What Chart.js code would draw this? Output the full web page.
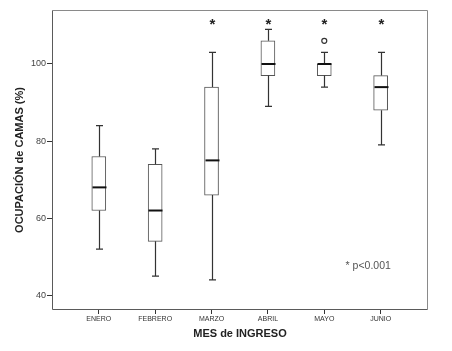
<!DOCTYPE html>
<html>
<head>
<meta charset="utf-8">
<script src="https://cdn.jsdelivr.net/npm/chart.js@4/dist/chart.umd.min.js"></script>
<style>
  body { margin: 0; background: #fff; }
  #wrap { width: 452px; height: 351px; position: relative; }
</style>
</head>
<body>
<div id="wrap"><canvas id="myChart"></canvas></div>
<script>
// data
const months = ["ENERO", "FEBRERO", "MARZO", "ABRIL", "MAYO", "JUNIO"];
const whiskerLow = [52, 45, 44, 89, 94, 79];
const q1 = [62, 54, 66, 97, 97, 88];
const median = [68, 62, 75, 100, 100, 94];
const q3 = [76, 74, 94, 106, 100, 97];
const whiskerHigh = [84, 78, 103, 109, 103, 103];
const outliers = [{ x: 4, y: 106 }];
const signif = ["", "", "*", "*", "*", "*"];
const signifLevel = 111;
const yTicks = [40, 60, 80, 100];
const note = "* p<0.001";

const FONT = "'Liberation Sans', Arial, sans-serif";

// whiskers, medians, asterisks, frame
const boxPlugin = {
    id: "boxPlugin",
    beforeDatasetsDraw(chart) {
        const { ctx, chartArea } = chart;
        const l = chartArea.left + 0.5, r = chartArea.right - 0.5;
        const t = chartArea.top + 0.5, b = chartArea.bottom - 0.5;
        ctx.save();
        ctx.lineWidth = 1;
        ctx.strokeStyle = "#8a8a8a";
        ctx.beginPath();
        ctx.moveTo(l, t);
        ctx.lineTo(r, t);
        ctx.lineTo(r, b);
        ctx.stroke();
        ctx.strokeStyle = "#5a5a5a";
        ctx.beginPath();
        ctx.moveTo(l, t);
        ctx.lineTo(l, b);
        ctx.lineTo(r, b);
        ctx.stroke();
        ctx.restore();
    },
    afterDatasetsDraw(chart) {
        const { ctx } = chart;
        const xs = chart.scales.x;
        const ys = chart.scales.y;
        const bars = chart.getDatasetMeta(0).data;
        ctx.save();
        months.forEach((m, i) => {
            const x = Math.round(xs.getPixelForValue(i)) + 0.5;
            const half = bars[i].width / 2;
            const cap = 3.5;
            ctx.strokeStyle = "#333";
            ctx.lineWidth = 1.2;
            ctx.beginPath();
            ctx.moveTo(x, ys.getPixelForValue(q3[i]));
            ctx.lineTo(x, ys.getPixelForValue(whiskerHigh[i]));
            ctx.moveTo(x - cap, ys.getPixelForValue(whiskerHigh[i]));
            ctx.lineTo(x + cap, ys.getPixelForValue(whiskerHigh[i]));
            ctx.moveTo(x, ys.getPixelForValue(q1[i]));
            ctx.lineTo(x, ys.getPixelForValue(whiskerLow[i]));
            ctx.moveTo(x - cap, ys.getPixelForValue(whiskerLow[i]));
            ctx.lineTo(x + cap, ys.getPixelForValue(whiskerLow[i]));
            ctx.stroke();

            ctx.strokeStyle = "#111";
            ctx.lineWidth = 2;
            ctx.beginPath();
            ctx.moveTo(x - half, ys.getPixelForValue(median[i]));
            ctx.lineTo(x + half, ys.getPixelForValue(median[i]));
            ctx.stroke();

            if (signif[i]) {
                ctx.fillStyle = "#222";
                ctx.font = "bold 15px " + FONT;
                ctx.textAlign = "center";
                ctx.textBaseline = "alphabetic";
                ctx.fillText(signif[i], x, ys.getPixelForValue(signifLevel) + 7);
            }
        });
        ctx.fillStyle = "#555";
        ctx.font = "10.5px " + FONT;
        ctx.textAlign = "center";
        ctx.textBaseline = "middle";
        ctx.fillText(note, xs.getPixelForValue(4.78), ys.getPixelForValue(47.5));
        ctx.restore();
    }
};

const ctx = document.getElementById("myChart").getContext("2d");
const myChart = new Chart(ctx, {
    data: {
        datasets: [{
            type: "bar",
            data: months.map((m, i) => ({ x: i, y: [q1[i], q3[i]] })),
            backgroundColor: "#ffffff",
            borderColor: "#555",
            borderWidth: 1,
            borderSkipped: false,
            barThickness: 14
        }, {
            type: "scatter",
            data: outliers,
            pointStyle: "circle",
            radius: 2.5,
            backgroundColor: "#ffffff",
            borderColor: "#333",
            borderWidth: 1.2
        }]
    },
    options: {
        responsive: true,
        maintainAspectRatio: false,
        animation: false,
        layout: { padding: { top: 10, right: 24, bottom: 0, left: 0 } },
        plugins: {
            legend: { display: false },
            tooltip: { enabled: false }
        },
        scales: {
            x: {
                type: "linear",
                offset: false,
                min: -0.83,
                max: 5.84,
                afterBuildTicks: scale => { scale.ticks = months.map((m, i) => ({ value: i })); },
                afterFit: scale => { scale.height = 41; },
                border: { display: false },
                grid: { offset: false, drawOnChartArea: false, drawTicks: true, tickLength: 4, color: "#333" },
                ticks: {
                    autoSkip: false,
                    maxRotation: 0,
                    padding: 1,
                    color: "#333",
                    font: { family: FONT, size: 7 },
                    callback: v => months[v]
                },
                title: {
                    display: true,
                    text: "MES de INGRESO",
                    color: "#222",
                    font: { family: FONT, size: 11, weight: "bold" },
                    padding: { top: 0, bottom: 10 }
                }
            },
            y: {
                type: "linear",
                min: 36.2,
                max: 114,
                afterBuildTicks: scale => { scale.ticks = yTicks.map(v => ({ value: v })); },
                afterFit: scale => { scale.width = 52; },
                border: { display: false },
                grid: { drawOnChartArea: false, drawTicks: true, tickLength: 5, color: "#333" },
                ticks: {
                    padding: 1,
                    color: "#444",
                    font: { family: FONT, size: 9 }
                },
                title: {
                    display: true,
                    text: "OCUPACIÓN de CAMAS (%)",
                    color: "#222",
                    font: { family: FONT, size: 11, weight: "bold" },
                    padding: { top: 13, bottom: 0 }
                }
            }
        }
    },
    plugins: [boxPlugin]
});
</script>
</body>
</html>
